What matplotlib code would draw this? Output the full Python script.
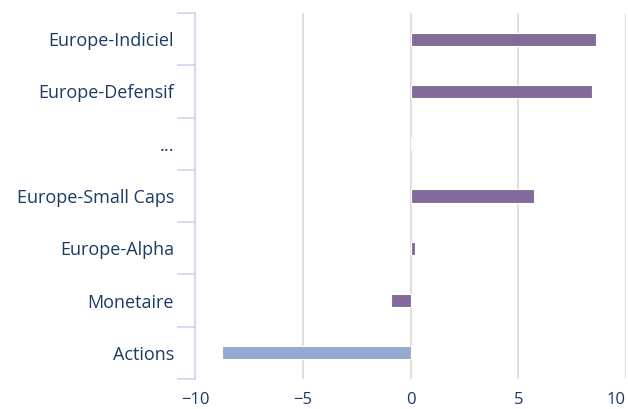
import matplotlib
matplotlib.use("Agg")
import matplotlib.pyplot as plt
import numpy as np

categories = ["Europe-Indiciel", "Europe-Defensif", "...", "Europe-Small Caps",
              "Europe-Alpha", "Monetaire", "Actions"]
values = [8.6, 8.4, 0.0, 5.75, 0.2, -0.9, -8.75]
colors = ["#826a9a", "#826a9a", "#826a9a", "#826a9a", "#826a9a", "#826a9a", "#94aad0"]
xticks = [-10, -5, 0, 5, 10]

plt.rcParams['font.family'] = ['Open Sans', 'DejaVu Sans']
text_color = "#1b3a66"

fig = plt.figure(figsize=(6.28, 4.09), dpi=100)
ax = fig.add_axes([195/628, 1-379/409, (626-195)/628, (379-13)/409])

y = np.arange(len(categories))
ax.barh(y, values, height=0.25, color=colors, edgecolor="white", linewidth=0.8, zorder=3)

ax.set_xlim(-10, 10)
ax.set_ylim(len(categories) - 0.5, -0.5)
ax.set_xticks(xticks)
ax.set_xticklabels([("\u2212" + str(abs(v))) if v < 0 else str(v) for v in xticks])
ax.set_yticks(y)
ax.set_yticklabels(categories)
ax.set_yticks(np.arange(-0.5, len(categories), 1.0), minor=True)

ax.grid(axis="x", color="#e0e0e0", linewidth=1.5, zorder=0)
for s in ["top", "right", "bottom"]:
    ax.spines[s].set_visible(False)
ax.spines["left"].set_color("#ccd6eb")
ax.spines["left"].set_linewidth(1.2)

ax.tick_params(axis="y", which="major", length=0, pad=15, labelsize=13, labelcolor=text_color)
ax.tick_params(axis="y", which="minor", length=13, width=1.2, color="#ccd6eb")
ax.tick_params(axis="x", length=0, pad=9, labelsize=12, labelcolor=text_color)
ax.get_xticklabels()[-1].set_horizontalalignment("right")
ax.get_xticklabels()[-1].set_x(10)

fig.savefig("out.png", dpi=100)
